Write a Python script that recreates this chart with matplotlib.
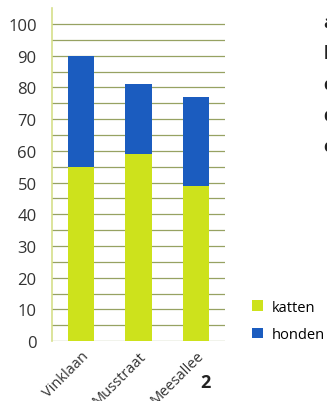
import matplotlib
matplotlib.use("Agg")
import matplotlib.pyplot as plt
import numpy as np

plt.rcParams['font.family'] = ['Open Sans', 'DejaVu Sans']

# Data.
straten = ["Vinklaan", "Musstraat", "Meesallee"]
katten = [55, 59, 49]
honden = [35, 22, 28]
y_ticks = [0, 10, 20, 30, 40, 50, 60, 70, 80, 90, 100]
letters = ["a", "b", "c", "d", "e"]

geel = "#cde21c"
blauw = "#1b5cbf"
grid_kleur = "#97a262"

fig = plt.figure(figsize=(3.27, 4.02), dpi=100, facecolor='w')
ax = fig.add_axes([0.159, 0.149, 0.529, 0.828])

x = np.arange(len(straten))
b1 = ax.bar(x, katten, width=0.46, color=geel, zorder=3, label="katten")
b2 = ax.bar(x, honden, width=0.46, bottom=katten, color=blauw, zorder=3, label="honden")

# Grid lines every 5.
for v in np.arange(0, 101, 5):
    ax.axhline(v, color=grid_kleur, linewidth=0.9, zorder=1)

ax.set_xlim(-0.5, 2.5)
ax.set_ylim(0, 105)
ax.set_yticks(y_ticks)
ax.set_yticklabels([str(v) for v in y_ticks], fontsize=12, color="#333333")
ax.set_xticks(x)
ax.set_xticklabels(straten, rotation=45, ha='right', va='top',
                   rotation_mode='anchor', fontsize=10.5, color="#333333")
ax.tick_params(axis='both', length=0)
ax.tick_params(axis='y', pad=11)
ax.tick_params(axis='x', pad=5)

for s in ["top", "right", "bottom"]:
    ax.spines[s].set_visible(False)
ax.spines["left"].set_color("#d6df8a")
ax.spines["left"].set_linewidth(1.2)

# The "2" under the chart.
fig.text(205 / 327, 1 - 383 / 402, "2", fontsize=13, fontweight='bold',
         ha='center', va='center', color="#222222")

# Legend.
fig.legend(handles=[b1, b2], loc='upper left', bbox_to_anchor=(0.772, 0.252),
           frameon=False, fontsize=10.5, handlelength=0.75, handleheight=0.75,
           handletextpad=0.6, labelspacing=0.85, borderpad=0, borderaxespad=0)

# Cut-off letters of the next column.
for i, l in enumerate(letters):
    fig.text(0.99, 1 - (23 + i * 31) / 402, l, fontsize=12, fontweight='bold',
             ha='left', va='center', color="#222222")

fig.savefig("out.png", dpi=100)
